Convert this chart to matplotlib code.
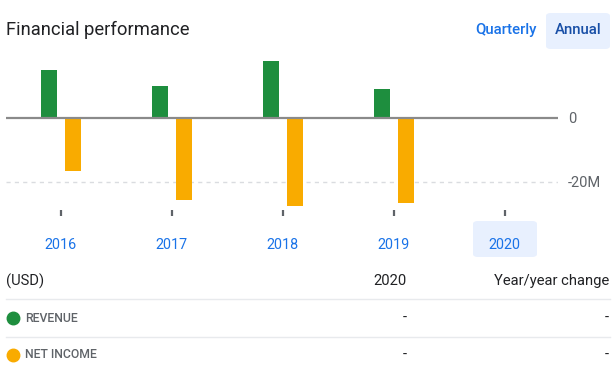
import matplotlib
matplotlib.use("Agg")
import matplotlib.pyplot as plt
import numpy as np
from matplotlib.lines import Line2D
from matplotlib.patches import FancyBboxPatch

plt.rcParams['font.family'] = ['Roboto', 'DejaVu Sans']

# chart data (millions of USD)
years = ['2016', '2017', '2018', '2019', '2020']
revenue = [14.8, 9.8, 17.6, 8.9, np.nan]
net_income = [-16.6, -25.6, -27.4, -26.6, np.nan]
y_ticks = [0, -20]
y_tick_labels = ['0', '-20M']

# table rows
row_names = ['REVENUE', 'NET INCOME']
row_values = ['-', '-']
row_changes = ['-', '-']

GREEN = '#1e8e3e'
ORANGE = '#f9ab00'
BLUE = '#1a73e8'
DARK_BLUE = '#174ea6'
TEXT = '#202124'
GREY = '#5f6368'
HIGHLIGHT = '#e8f0fe'

W, H = 616, 370


def fx(px):
    return px / W


def fy(py):
    return 1 - py / H


fig = plt.figure(figsize=(W / 100, H / 100), dpi=100)

# plot area in pixel terms: x 6..558, y 50..210
ax = fig.add_axes([fx(6), fy(210), (558 - 6) / W, (210 - 50) / H])
ax.set_facecolor('none')

x = np.arange(len(years))
bar_w = 0.144
ax.bar(x - 0.108, revenue, width=bar_w, color=GREEN, zorder=2)
ax.bar(x + 0.108, net_income, width=bar_w, color=ORANGE, zorder=2)

ax.axhline(0, color='#8a8a8a', lw=1.6, zorder=3)
ax.axhline(-20, color='#dadce0', lw=1, ls=(0, (3, 3)), zorder=1)

ax.set_xlim(-0.495, 4.48)
ax.set_ylim(-28.7, 21.0)

ax.set_xticks(x)
ax.set_xticklabels(years, color=BLUE, fontsize=10.4)
ax.tick_params(axis='x', length=4, width=1.6, color='#5f6368', pad=16)

ax.yaxis.tick_right()
ax.set_yticks(y_ticks)
ax.set_yticklabels(y_tick_labels, color=GREY, fontsize=10.5)
ax.tick_params(axis='y', length=0, pad=7)

for spine in ax.spines.values():
    spine.set_visible(False)

# highlight behind the selected year
fig.add_artist(FancyBboxPatch((fx(473), fy(257)), fx(537) - fx(473), fy(221) - fy(257),
                              boxstyle='round,pad=0,rounding_size=0.008',
                              transform=fig.transFigure, facecolor=HIGHLIGHT,
                              edgecolor='none', zorder=-1))

# header
fig.text(fx(6), fy(30), 'Financial performance', fontsize=13.2, color=TEXT,
         ha='left', va='center')
fig.add_artist(FancyBboxPatch((fx(546), fy(49)), fx(610) - fx(546), fy(13) - fy(49),
                              boxstyle='round,pad=0,rounding_size=0.008',
                              transform=fig.transFigure, facecolor=HIGHLIGHT,
                              edgecolor='none', zorder=-1))
fig.text(fx(506), fy(30), 'Quarterly', fontsize=10.8, color=BLUE, ha='center', va='center',
         fontweight='medium')
fig.text(fx(578), fy(30), 'Annual', fontsize=10.8, color=DARK_BLUE, ha='center', va='center',
         fontweight='medium')

# table
fig.text(fx(6), fy(281), '(USD)', fontsize=10.6, color=TEXT, ha='left', va='center')
fig.text(fx(407), fy(281), years[-1], fontsize=10.6, color=TEXT, ha='right', va='center')
fig.text(fx(609), fy(281), 'Year/year change', fontsize=10.6, color=TEXT, ha='right',
         va='center')

row_y = [318, 355]
line_y = [299, 337]
for ly in line_y:
    fig.add_artist(Line2D([fx(6), fx(610)], [fy(ly), fy(ly)], color='#e8eaed', lw=1,
                          transform=fig.transFigure))

for name, val, chg, color, ry in zip(row_names, row_values, row_changes,
                                     [GREEN, ORANGE], row_y):
    fig.add_artist(Line2D([fx(12.7)], [fy(ry)], marker='o', markersize=9, color=color,
                          transform=fig.transFigure))
    fig.text(fx(25), fy(ry), name, fontsize=8.8, color=GREY, ha='left', va='center',
             fontweight='medium')
    fig.text(fx(407), fy(ry), val, fontsize=10.6, color=TEXT, ha='right', va='center')
    fig.text(fx(609), fy(ry), chg, fontsize=10.6, color=TEXT, ha='right', va='center')

plt.savefig('out.png', dpi=100)
